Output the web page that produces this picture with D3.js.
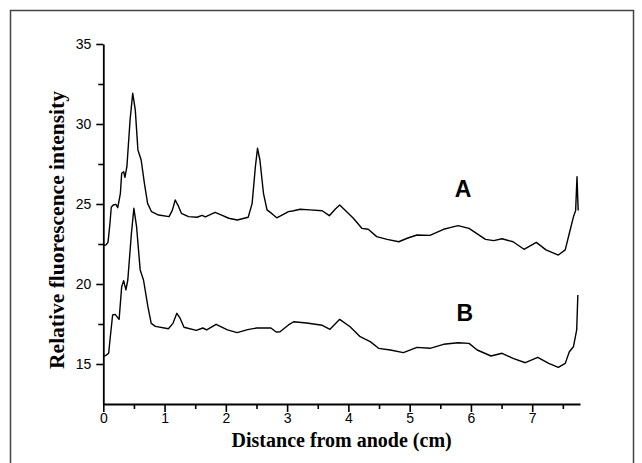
<!DOCTYPE html>
<html><head><meta charset="utf-8">
<script src="https://cdn.jsdelivr.net/npm/d3@7"></script>
<style>body{margin:0;background:#fff;overflow:hidden}</style>
</head><body>
<script>
// ---- data ----
const distanceA = [0.000,0.045,0.077,0.109,0.130,0.162,0.205,0.236,0.279,0.300,0.332,0.353,0.385,0.437,0.480,0.522,0.565,0.618,0.671,0.723,0.787,0.903,1.073,1.126,1.174,1.221,1.274,1.391,1.528,1.613,1.666,1.825,1.931,2.047,2.185,2.365,2.429,2.482,2.517,2.556,2.614,2.672,2.757,2.831,2.916,3.022,3.106,3.212,3.371,3.573,3.689,3.784,3.858,3.943,4.081,4.219,4.324,4.462,4.632,4.822,4.960,5.119,5.331,5.553,5.659,5.789,5.969,6.238,6.372,6.507,6.687,6.866,7.067,7.225,7.426,7.539,7.606,7.673,7.709,7.731,7.750];
const intensityA = [22.40,22.45,22.6,23.8,24.8,24.94,24.98,24.77,25.67,26.92,27.02,26.67,27.33,30.25,31.92,30.88,28.38,27.75,26.29,25.04,24.52,24.31,24.21,24.6,25.25,24.9,24.42,24.21,24.17,24.29,24.19,24.48,24.31,24.11,24.0,24.17,25.04,27.33,28.48,27.75,25.67,24.63,24.38,24.14,24.31,24.52,24.58,24.67,24.63,24.58,24.27,24.67,24.94,24.63,24.11,23.48,23.42,22.96,22.79,22.64,22.86,23.06,23.04,23.42,23.52,23.65,23.48,22.79,22.71,22.83,22.64,22.17,22.6,22.13,21.81,22.13,23.17,24.2,24.6,26.7,24.6];
const distanceB = [0.000,0.035,0.088,0.109,0.152,0.194,0.258,0.300,0.332,0.369,0.400,0.459,0.499,0.543,0.602,0.656,0.728,0.782,0.851,1.062,1.137,1.200,1.253,1.317,1.518,1.624,1.687,1.841,2.026,2.185,2.355,2.503,2.736,2.821,2.884,3.022,3.106,3.318,3.573,3.700,3.858,4.028,4.192,4.356,4.494,4.685,4.897,5.119,5.331,5.553,5.789,5.969,6.102,6.328,6.507,6.687,6.888,7.090,7.270,7.426,7.539,7.606,7.673,7.726,7.745];
const intensityB = [15.5,15.52,15.67,16.5,18.06,18.1,17.79,19.83,20.21,19.63,20.25,23.17,24.73,23.58,20.88,20.25,18.58,17.54,17.35,17.2,17.54,18.17,17.86,17.3,17.1,17.25,17.13,17.48,17.13,16.96,17.15,17.25,17.25,17.0,17.02,17.44,17.64,17.56,17.42,17.17,17.79,17.33,16.71,16.4,15.98,15.875,15.71,16.04,15.98,16.23,16.33,16.29,15.875,15.5,15.67,15.35,15.08,15.42,15.04,14.79,15.04,15.77,16.08,17.13,19.31];
const xTickValues = [0,1,2,3,4,5,6,7];
const xMinorTicks = [0.5,1.5,2.5,3.5,4.5,5.5,6.5,7.5];
const yTickValues = [15,20,25,30,35];
const yMinorTicks = [17.5,22.5,27.5,32.5];
const seriesNames = ["A","B"];
const labelX = [5.87,5.90];
const labelY = [25.44,17.69];
const xTitle = "Distance from anode (cm)";
const yTitle = "Relative fluorescence intensity";

// ---- drawing ----
const W = 642, H = 463;
const svg = d3.select("body").append("svg").attr("width", W).attr("height", H);
svg.append("rect").attr("width", W).attr("height", H).attr("fill", "#fff");

// outer frame
svg.append("path").attr("d", "M10.5,470 V10.5 H633.5 V470").attr("fill", "none")
  .attr("stroke", "#444").attr("stroke-width", 1.5);

const x = d3.scaleLinear().domain([0, 7.78]).range([103.3, 580]);
const y = d3.scaleLinear().domain([12.5, 35]).range([404, 44]);

const axisStyle = g => {
  g.select(".domain").attr("stroke", "#000").attr("stroke-width", 1.8);
  g.selectAll(".tick line").attr("stroke", "#000").attr("stroke-width", 1.6);
  g.selectAll("text").attr("fill", "#000").attr("font-family", "'Liberation Sans', Arial, sans-serif").attr("font-size", 14);
};

// minor ticks
svg.append("g").attr("transform", "translate(0,404)")
  .call(d3.axisBottom(x).tickValues(xMinorTicks).tickSize(5).tickFormat(""))
  .call(g => { g.select(".domain").remove(); g.selectAll(".tick line").attr("stroke","#000").attr("stroke-width",1.6); });
svg.append("g").attr("transform", "translate(103.3,0)")
  .call(d3.axisLeft(y).tickValues(yMinorTicks).tickSize(5).tickFormat(""))
  .call(g => { g.select(".domain").remove(); g.selectAll(".tick line").attr("stroke","#000").attr("stroke-width",1.6); });

// major axes
svg.append("g").attr("transform", "translate(0,404)")
  .call(d3.axisBottom(x).tickValues(xTickValues).tickSize(8).tickSizeOuter(0).tickPadding(1).tickFormat(d3.format("d")))
  .call(axisStyle);
svg.append("g").attr("transform", "translate(103.3,0)")
  .call(d3.axisLeft(y).tickValues(yTickValues).tickSize(7).tickSizeOuter(0).tickPadding(5).tickFormat(d3.format("d")))
  .call(axisStyle);

// curves
const line = d3.line().x(d => x(d[0])).y(d => y(d[1]));
const dataA = distanceA.map((d, i) => [d, intensityA[i]]);
const dataB = distanceB.map((d, i) => [d, intensityB[i]]);
[dataA, dataB].forEach(data => {
  svg.append("path").datum(data).attr("d", line).attr("fill", "none")
    .attr("stroke", "#000").attr("stroke-width", 1.4).attr("stroke-linejoin", "round");
});

// series labels
seriesNames.forEach((n, i) => {
  svg.append("text").attr("x", x(labelX[i])).attr("y", y(labelY[i]))
    .attr("text-anchor", "middle").attr("font-family", "'Liberation Sans', Arial, sans-serif")
    .attr("font-weight", "bold").attr("font-size", 23).text(n);
});

// axis titles
svg.append("text").attr("x", (x(0) + x(7.78)) / 2).attr("y", 447)
  .attr("text-anchor", "middle").attr("font-family", "'Liberation Serif', 'Times New Roman', serif")
  .attr("font-weight", "bold").attr("font-size", 20).text(xTitle);
svg.append("text").attr("transform", `translate(64,${(y(12.5) + y(35)) / 2 + 6}) rotate(-90)`)
  .attr("text-anchor", "middle").attr("font-family", "'Liberation Serif', 'Times New Roman', serif")
  .attr("font-weight", "bold").attr("font-size", 21.5).text(yTitle);
</script>
</body></html>
